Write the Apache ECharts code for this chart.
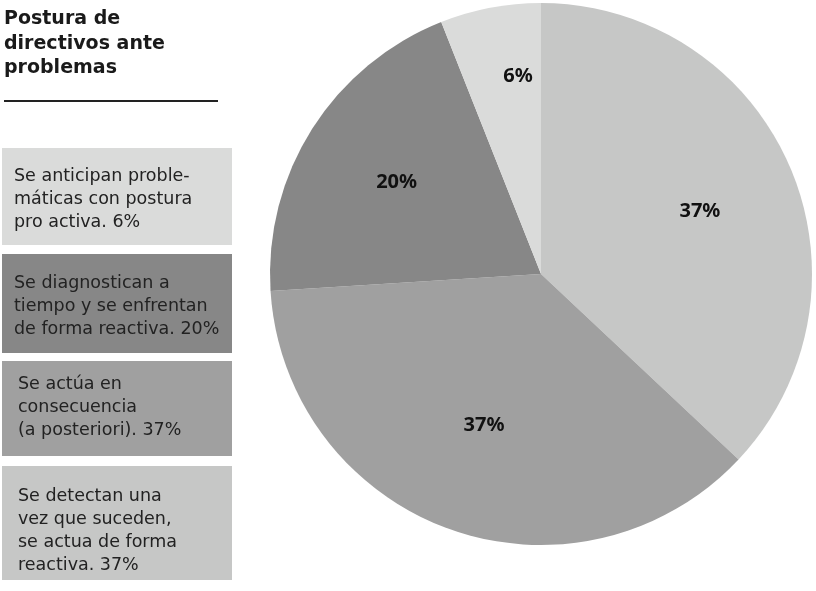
<!DOCTYPE html>
<html>
<head>
<meta charset="utf-8">
<script src="https://cdn.jsdelivr.net/npm/echarts@6/dist/echarts.min.js"></script>
<style>
  html, body { margin: 0; padding: 0; background: #fff; }
  #chart { width: 816px; height: 591px; }
</style>
</head>
<body>
<div id="chart"></div>
<script>
// slices in clockwise order from 12 o'clock
const categories = [
  'Se detectan una\nvez que suceden,\nse actua de forma\nreactiva.',
  'Se actúa en\nconsecuencia\n(a posteriori).',
  'Se diagnostican a\ntiempo y se enfrentan\nde forma reactiva.',
  'Se anticipan proble-\nmáticas con postura\npro activa.'
];
const values = [37, 37, 20, 6];
const title = 'Postura de\ndirectivos ante\nproblemas';

const colors = ['#c6c7c6', '#a0a0a0', '#878787', '#dadbda'];
const FONT = '"DejaVu Sans", sans-serif';
const LABEL_FONT = '"Noto Sans", sans-serif';

// legend boxes, top to bottom (reverse of slice order)
const boxes = [
  { i: 3, y: 148, h: 97, tx: 14, ty: 17 },
  { i: 2, y: 254, h: 99, tx: 14, ty: 18 },
  { i: 1, y: 361, h: 95, tx: 18, ty: 12 },
  { i: 0, y: 466, h: 114, tx: 18, ty: 19 }
];

const graphic = [
  {
    type: 'text', left: 4, top: 7,
    style: { text: title, font: 'bold 19px ' + FONT, fill: '#1a1a1a', lineHeight: 24.5 }
  },
  {
    type: 'line', shape: { x1: 4, y1: 101, x2: 218, y2: 101 },
    style: { stroke: '#222', lineWidth: 2 }
  }
];
boxes.forEach(b => {
  graphic.push({
    type: 'rect', shape: { x: 2, y: b.y, width: 230, height: b.h },
    style: { fill: colors[b.i] }
  });
  graphic.push({
    type: 'text', left: b.tx, top: b.y + b.ty,
    style: {
      text: categories[b.i] + ' ' + values[b.i] + '%',
      font: '17.5px ' + FONT, fill: '#222', lineHeight: 23
    }
  });
});

// small nudges so labels sit where the original put them
const labelNudge = [[2, 5], [1, -10], [0, 0], [9, -30]];

const chart = echarts.init(document.getElementById('chart'));
chart.setOption({
  backgroundColor: '#fff',
  animation: false,
  graphic: graphic,
  series: [
    {
      type: 'pie',
      center: [541, 274],
      radius: [0, 271],
      startAngle: 90,
      clockwise: true,
      silent: true,
      label: { show: false },
      labelLine: { show: false },
      itemStyle: { borderWidth: 0 },
      data: values.map((v, i) => ({ value: v, name: 'c' + i, itemStyle: { color: colors[i] } }))
    },
    {
      // transparent copy, only used to push the labels outward
      type: 'pie',
      center: [541, 274],
      radius: [0, 336],
      startAngle: 90,
      clockwise: true,
      silent: true,
      itemStyle: { color: 'rgba(0,0,0,0)', borderWidth: 0 },
      label: {
        show: true, position: 'inside', formatter: '{c}%',
        color: '#111', fontFamily: LABEL_FONT, fontWeight: 'bold', fontSize: 20
      },
      labelLine: { show: false },
      labelLayout: p => ({ dx: labelNudge[p.dataIndex][0], dy: labelNudge[p.dataIndex][1] }),
      data: values.map((v, i) => ({ value: v, name: 'l' + i }))
    }
  ]
});
</script>
</body>
</html>
